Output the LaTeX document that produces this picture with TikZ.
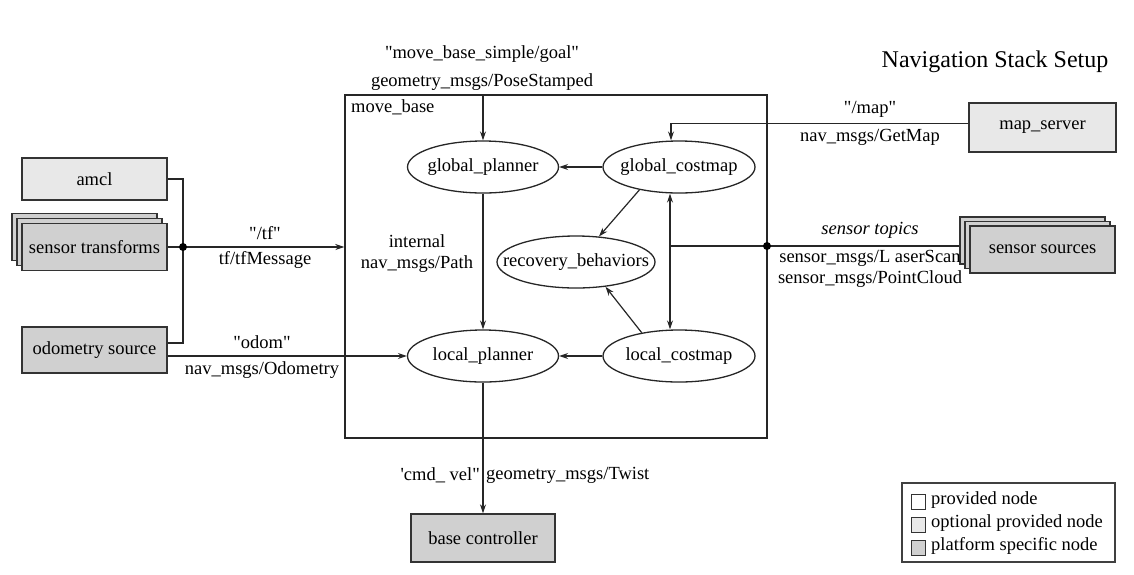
\documentclass[tikz,border=0pt]{standalone}
\usepackage{fontspec}
\setmainfont{Liberation Serif}
\newfontfamily\rawfont{Liberation Serif}
\usetikzlibrary{arrows.meta,calc,shapes.geometric}
\definecolor{optgray}{HTML}{E8E8E8}
\definecolor{platgray}{HTML}{D0D0D0}
\begin{document}
\begin{tikzpicture}[x=1pt,y=-1pt,
  every node/.style={font=\rawfont\fontsize{18.5}{21}\selectfont},
  box/.style={draw=black!80,line width=1.4pt,rectangle,inner sep=0pt},
  optbox/.style={box,fill=optgray},
  platbox/.style={box,fill=platgray},
  ell/.style={draw=black!85,line width=1.3pt,ellipse,fill=white,inner sep=0pt,minimum height=52pt},
  conn/.style={line width=1.2pt,draw=black!85},
  arr/.style={conn,-{Stealth[length=9pt,width=6pt]}},
  lbl/.style={inner sep=0pt},
  dot/.style={circle,fill=black,inner sep=0pt,minimum size=8pt}
]
\useasboundingbox (0,0) rectangle (1134,574);

% title
\node[lbl,font=\rawfont\fontsize{24}{28}\selectfont] (title) at (995,62) {Navigation Stack Setup};

% move_base container
\node[box,draw=black!85,minimum width=422pt,minimum height=343pt] (mb) at (556,266.5) {};
\node[lbl,anchor=north west] (mblbl) at (351,99) {move\_base};

% left nodes
\node[optbox,minimum width=145pt,minimum height=42pt] (amcl) at (94.5,179) {amcl};
\node[platbox,minimum width=145pt,minimum height=47pt] (st3) at (84.5,237) {};
\node[platbox,minimum width=145pt,minimum height=47pt] (st2) at (89.5,242) {};
\node[platbox,minimum width=145pt,minimum height=47pt] (st) at (94.5,247) {sensor transforms};
\node[platbox,minimum width=145pt,minimum height=46pt] (odom) at (94.5,350) {odometry source};

% ellipses
\node[ell,minimum width=151pt] (gp) at (483,167) {\makebox[0pt]{global\_planner}};
\node[ell,minimum width=152pt] (gc) at (679,167) {\makebox[0pt]{global\_costmap}};
\node[ell,minimum width=158pt] (rb) at (576,262) {\makebox[0pt]{recovery\_behaviors}};
\node[ell,minimum width=151pt] (lp) at (483,356) {\makebox[0pt]{local\_planner}};
\node[ell,minimum width=152pt] (lc) at (679,356) {\makebox[0pt]{local\_costmap}};

% right nodes
\node[optbox,minimum width=147pt,minimum height=49pt] (ms) at (1042.5,127.5) {map\_server};
\node[platbox,minimum width=145pt,minimum height=47pt] (ss3) at (1032.5,240.5) {};
\node[platbox,minimum width=145pt,minimum height=47pt] (ss2) at (1037.5,245) {};
\node[platbox,minimum width=145pt,minimum height=47pt] (ss) at (1042.5,249.5) {sensor sources};

% base controller
\node[platbox,minimum width=144pt,minimum height=48pt] (bc) at (483,538) {base controller};

% junctions
\coordinate (j) at (183,247);
\coordinate (sj) at (767,246);
\coordinate (sl) at (670,246);
\coordinate (goal) at (483,95);

% left bus
\draw[conn] (amcl.east) -| (j);
\draw[conn] (st.east) -- (j);
\draw[conn] (j) |- ([yshift=7pt]odom.east);
\draw[arr] (j) -- (j -| mb.west);
\node[dot] (jd) at (j) {};
\node[lbl] (tfa) at (265,233) {"/tf"};
\node[lbl] (tfb) at (265,260) {tf/tfMessage};

% odom
\draw[arr] ([yshift=-6pt]odom.east) -- (lp.west);
\node[lbl] (oda) at (262,342) {"odom"};
\node[lbl] (odb) at (262,370) {nav\_msgs/Odometry};

% goal
\node[lbl] (ga) at (482,54) {"move\_base\_simple/goal"};
\node[lbl] (gb) at (482,82) {geometry\_msgs/PoseStamped};
\draw[arr] (goal) -- (gp.north);

% internal
\draw[arr] (gc.west) -- (gp.east);
\draw[arr] (gp.south) -- (lp.north);
\draw[arr] (lc.west) -- (lp.east);
\draw[arr] (gc.210) -- (rb.48);
\draw[arr] (lc.148) -- (rb.320);
\draw[conn,{Stealth[length=9pt,width=6pt]}-{Stealth[length=9pt,width=6pt]}] ([xshift=-9pt]gc.south) -- ([xshift=-9pt]lc.north);
\node[lbl] (ia) at (417,241) {internal};
\node[lbl] (ib) at (417,264) {nav\_msgs/Path};

% map
\draw[arr] ([yshift=4pt]ms.west) -| ([xshift=-8pt]gc.north);
\node[lbl] (ma) at (870,109) {"/map"};
\node[lbl] (mbb) at (870,137) {nav\_msgs/GetMap};

% sensors
\draw[conn] (sj -| ss3.west) -- (sl);
\node[dot] (sjd) at (sj) {};
\node[lbl,font=\rawfont\fontsize{18.5}{21}\selectfont\itshape] (sa) at (870,230) {sensor topics};
\node[lbl] (sb) at (870,258) {sensor\_msgs/L aserScan};
\node[lbl] (sc) at (870,279) {sensor\_msgs/PointCloud};

% cmd vel
\draw[arr] (lp.south) -- (bc.north);
\node[lbl,anchor=east] (ca) at (480,475) {'cmd\_ vel"};
\node[lbl,anchor=west] (cb) at (486,475) {geometry\_msgs/Twist};

% legend
\node[box,draw=black!75,minimum width=213pt,minimum height=79pt] (leg) at (1008.5,522.5) {};
\node[box,line width=1pt,fill=white,minimum width=14pt,minimum height=15pt] (l1) at (918,502) {};
\node[box,line width=1pt,fill=optgray,minimum width=14pt,minimum height=15pt] (l2) at (918,525) {};
\node[box,line width=1pt,fill=platgray,minimum width=14pt,minimum height=15pt] (l3) at (918,548) {};
\node[lbl,anchor=west] (t1) at (931,500) {provided node};
\node[lbl,anchor=west] (t2) at (931,523) {optional provided node};
\node[lbl,anchor=west] (t3) at (931,546) {platform specific node};
\end{tikzpicture}
\end{document}
